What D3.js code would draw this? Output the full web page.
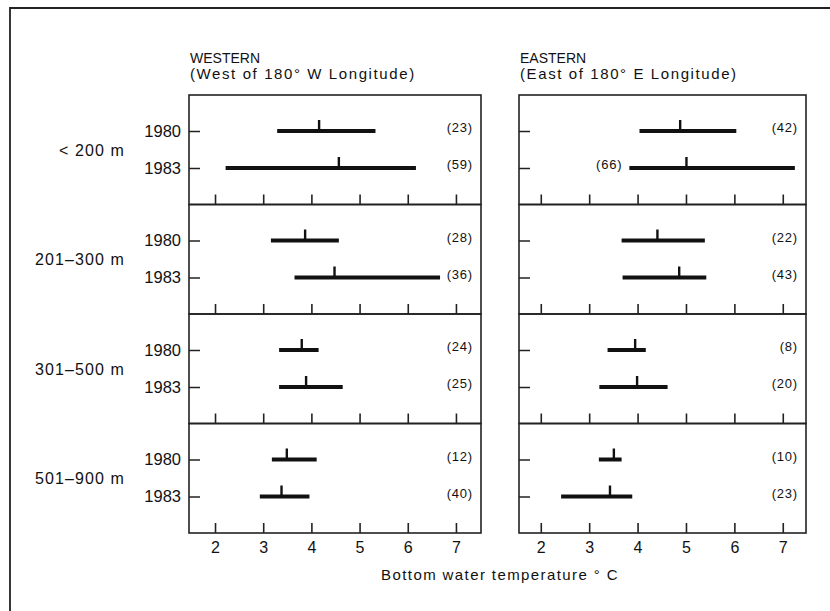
<!DOCTYPE html>
<html>
<head>
<meta charset="utf-8">
<script src="https://cdn.jsdelivr.net/npm/d3@7"></script>
<style>
  body { margin: 0; background: #fff; }
  svg { display: block; }
  text { font-family: "Liberation Sans", Arial, sans-serif; fill: #111; }
</style>
</head>
<body>
<div class="visualization"></div>
<script>
const canvaswidth = 830;
const canvasheight = 611;

// depth classes and survey years
const depths = ["< 200 m", "201\u2013300 m", "301\u2013500 m", "501\u2013900 m"];
const years = ["1980", "1983"];
const xticks = [2, 3, 4, 5, 6, 7];

// western region (west of 180 W) : low / median / high temperature, sample size
const westLow1980 = [3.29, 3.16, 3.33, 3.18];
const westMed1980 = [4.16, 3.87, 3.80, 3.49];
const westHigh1980 = [5.33, 4.57, 4.15, 4.11];
const westN1980 = [23, 28, 24, 12];
const westLow1983 = [2.22, 3.65, 3.33, 2.93];
const westMed1983 = [4.57, 4.48, 3.89, 3.38];
const westHigh1983 = [6.17, 6.67, 4.65, 3.96];
const westN1983 = [59, 36, 25, 40];

// eastern region (east of 180 E)
const eastLow1980 = [4.04, 3.67, 3.38, 3.20];
const eastMed1980 = [4.88, 4.41, 3.95, 3.51];
const eastHigh1980 = [6.04, 5.39, 4.17, 3.67];
const eastN1980 = [42, 22, 8, 10];
const eastLow1983 = [3.83, 3.69, 3.21, 2.42];
const eastMed1983 = [5.01, 4.86, 3.99, 3.43];
const eastHigh1983 = [7.25, 5.42, 4.62, 3.89];
const eastN1983 = [66, 43, 20, 23];

function rowsFor(low80, med80, high80, n80, low83, med83, high83, n83) {
  var out = [];
  depths.forEach(function (dp, i) {
    out.push({ depth: dp, year: "1980", low: low80[i], med: med80[i], high: high80[i], n: n80[i] });
    out.push({ depth: dp, year: "1983", low: low83[i], med: med83[i], high: high83[i], n: n83[i] });
  });
  return out;
}

const regions = [
  { key: "west", title: "WESTERN", sub: "(West of 180\u00b0 W Longitude)",
    x: d3.scaleLinear().domain([1.46, 7.52]).range([189, 481]),
    rows: rowsFor(westLow1980, westMed1980, westHigh1980, westN1980, westLow1983, westMed1983, westHigh1983, westN1983) },
  { key: "east", title: "EASTERN", sub: "(East of 180\u00b0 E Longitude)",
    x: d3.scaleLinear().domain([1.55, 7.48]).range([519, 806]),
    rows: rowsFor(eastLow1980, eastMed1980, eastHigh1980, eastN1980, eastLow1983, eastMed1983, eastHigh1983, eastN1983) }
];

var svgCanvas = d3.select(".visualization").append("svg")
  .attr("width", canvaswidth)
  .attr("height", canvasheight);

// outer frame (left and top only, the scan is cropped)
svgCanvas.append("path")
  .attr("d", "M10," + canvasheight + "V8H" + canvaswidth)
  .attr("fill", "none")
  .attr("stroke", "#222")
  .attr("stroke-width", 1.8);

var panelscale = d3.scaleBand().domain(depths).range([95, 533]);
var rowscale = d3.scalePoint().domain(years).range([36, 73]);

// depth labels on the far left
svgCanvas.selectAll("text.depth")
  .data(depths)
  .enter()
  .append("text")
  .attr("class", "depth")
  .attr("x", 125)
  .attr("y", d => panelscale(d) + (rowscale("1980") + rowscale("1983")) / 2 + 6)
  .attr("text-anchor", "end")
  .style("font-size", "16px")
  .style("letter-spacing", "1.1px")
  .text(d => d);

regions.forEach(function (reg) {
  var x = reg.x;
  var x0 = x.range()[0], x1 = x.range()[1];

  svgCanvas.append("text")
    .attr("x", x0 + 1).attr("y", 63)
    .style("font-size", "14px").style("letter-spacing", "0px")
    .text(reg.title);
  svgCanvas.append("text")
    .attr("x", x0 + 1).attr("y", 79)
    .style("font-size", "15px").style("letter-spacing", "1.6px")
    .text(reg.sub);

  depths.forEach(function (dp, i) {
    var g = svgCanvas.append("g")
      .attr("transform", "translate(0," + panelscale(dp) + ")");
    var ph = panelscale.bandwidth();

    g.append("rect")
      .attr("x", x0).attr("y", 0)
      .attr("width", x1 - x0).attr("height", ph)
      .attr("fill", "none").attr("stroke", "#222").attr("stroke-width", 1.6);

    var xaxis = d3.axisBottom(x).tickValues(xticks).tickSize(-10).tickPadding(9)
      .tickFormat(i === depths.length - 1 ? d3.format("d") : "");
    var xa = g.append("g").attr("transform", "translate(0," + ph + ")").call(xaxis);
    xa.select(".domain").remove();
    xa.selectAll("line").attr("stroke", "#222").attr("stroke-width", 1.6);
    xa.selectAll("text").style("font-size", "16px").style("font-family", "Liberation Sans, Arial, sans-serif").attr("fill", "#111");

    var yscale = rowscale.copy();
    var yaxis = d3.axisLeft(yscale).tickSize(-11).tickPadding(8)
      .tickFormat(reg.key === "west" ? (d => d) : "");
    var ya = g.append("g").attr("transform", "translate(" + x0 + ",0)").call(yaxis);
    ya.select(".domain").remove();
    ya.selectAll("line").attr("stroke", "#222").attr("stroke-width", 1.5);
    ya.selectAll("text").style("font-size", "16.5px").style("font-family", "Liberation Sans, Arial, sans-serif").attr("fill", "#111");

    var rows = reg.rows.filter(r => r.depth === dp);

    g.selectAll("line.range")
      .data(rows).enter().append("line")
      .attr("class", "range")
      .attr("x1", d => x(d.low)).attr("x2", d => x(d.high))
      .attr("y1", d => rowscale(d.year)).attr("y2", d => rowscale(d.year))
      .attr("stroke", "#111").attr("stroke-width", 4);

    g.selectAll("line.median")
      .data(rows).enter().append("line")
      .attr("class", "median")
      .attr("x1", d => x(d.med)).attr("x2", d => x(d.med))
      .attr("y1", d => rowscale(d.year) - 11).attr("y2", d => rowscale(d.year))
      .attr("stroke", "#111").attr("stroke-width", 2.4);

    // count label sits at the panel's right edge unless the bar runs into it
    g.selectAll("text.count")
      .data(rows).enter().append("text")
      .attr("class", "count")
      .attr("x", d => x(d.high) > x1 - 36 ? x(d.low) - 7 : x1 - 8)
      .attr("y", d => rowscale(d.year) + 1)
      .attr("text-anchor", "end")
      .style("font-size", "13px")
      .style("letter-spacing", "0.8px")
      .text(d => "(" + d.n + ")");
  });
});

// x axis title
svgCanvas.append("text")
  .attr("x", 500).attr("y", 580)
  .attr("text-anchor", "middle")
  .style("font-size", "15px")
  .style("letter-spacing", "1.4px")
  .text("Bottom water temperature \u00b0 C");
</script>
</body>
</html>
